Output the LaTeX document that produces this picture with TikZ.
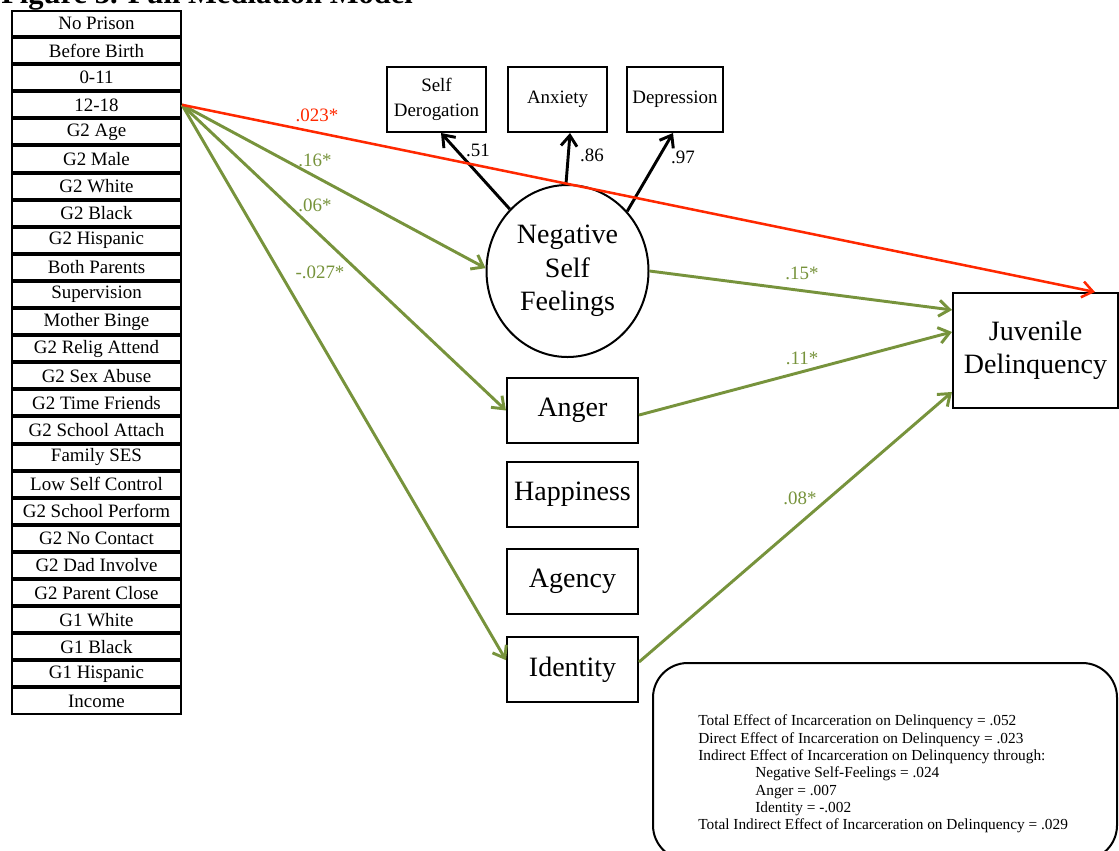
\documentclass[tikz,border=0pt]{standalone}
\usepackage{fontspec}
\setmainfont{Liberation Serif}
\usetikzlibrary{arrows.meta,shapes.geometric}
\definecolor{pathgreen}{RGB}{119,147,60}
\definecolor{pathred}{RGB}{255,40,0}
\begin{document}
\begin{tikzpicture}[x=0.75pt,y=-0.75pt,
  lbox/.style={draw, line width=1.5pt, minimum width=126.75pt, minimum height=18.8pt, inner sep=0pt, font=\fontsize{14.2}{16}\selectfont},
  ibox/.style={draw, line width=1.5pt, minimum height=48.75pt, inner sep=0pt, align=center, font=\fontsize{14.2}{18.5}\selectfont},
  mbox/.style={draw, line width=1.5pt, minimum width=98.25pt, minimum height=48.75pt, inner sep=0pt, font=\fontsize{21}{25}\selectfont},
  lat/.style={draw, ellipse, line width=1.5pt, minimum width=121.5pt, minimum height=129pt, inner sep=0pt, align=center, font=\fontsize{21}{25}\selectfont},
  tip/.style={-{Straight Barb[length=8pt,width=12pt]}},
  larrow/.style={draw=black, line width=2.2pt, tip},
  garrow/.style={draw=pathgreen, line width=2.2pt, tip},
  rarrow/.style={draw=pathred, line width=1.9pt, tip},
  lab/.style={font=\fontsize{14.2}{16}\selectfont, inner sep=0pt},
  glab/.style={lab, text=pathgreen},
]
\useasboundingbox (0,0) rectangle (1119,850);
\clip (0,0) rectangle (1119,850);

% title (clipped at top)
\node[anchor=base west, inner sep=0pt, font=\bfseries\fontsize{22.9}{25}\selectfont] (title) at (1,3) {Figure 3. Full Mediation Model};

% left column of covariates
\foreach \t [count=\i from 0] in {No Prison,Before Birth,0-11,12-18,G2 Age,G2 Male,G2 White,G2 Black,G2 Hispanic,Both Parents,Supervision,Mother Binge,G2 Relig Attend,G2 Sex Abuse,G2 Time Friends,G2 School Attach,Family SES,Low Self Control,G2 School Perform,G2 No Contact,G2 Dad Involve,G2 Parent Close,G1 White,G1 Black,G1 Hispanic,Income}
  \node[lbox] (r\i) at (96.5,{23.5+27.1*\i}) {\t};

% indicators
\node[ibox, minimum width=74.25pt] (sd) at (436.5,99.5) {Self\\Derogation};
\node[ibox, minimum width=74.25pt] (anx) at (557.5,99.5) {Anxiety};
\node[ibox, minimum width=72pt] (dep) at (675,99.5) {Depression};

% latent
\node[lat] (nsf) at (567.5,271) {Negative\\Self\\Feelings};

% mediators
\node[mbox] (anger) at (572.5,410.5) {Anger};
\node[mbox] (happy) at (572.5,494.5) {Happiness};
\node[mbox] (agency) at (572.5,581.5) {Agency};
\node[mbox] (ident) at (572.5,669.5) {Identity};

% outcome
\node[mbox, minimum width=123.75pt, minimum height=86.25pt, align=center, font=\fontsize{21}{24.75}\selectfont] (jd) at (1035.5,350.5) {Juvenile\\Delinquency};

% loadings
\draw[larrow] (nsf.133) -- ([xshift=3.4pt]sd.south);
\draw[larrow] (nsf.91.7) -- ([xshift=9.4pt]anx.south);
\draw[larrow] (nsf.45.7) -- ([xshift=-1.5pt]dep.south);
\node[lab] (l51) at (478,150) {.51};
\node[lab] (l86) at (592,155) {.86};
\node[lab] (l97) at (683,157) {.97};

% paths from 12-18
\draw[garrow] (r3.east) -- (nsf.178);
\draw[garrow] (r3.east) -- (anger.west);
\draw[garrow] (r3.east) -- ([yshift=7pt]ident.west);
\draw[rarrow] (r3.east) -- ([xshift=44.6pt]jd.north);

% paths to outcome
\draw[garrow] (nsf.east) -- ([yshift=30.4pt]jd.west);
\draw[garrow] ([yshift=-3.4pt]anger.east) -- ([yshift=13.9pt]jd.west);
\draw[garrow] ([yshift=5.6pt]ident.east) -- ([yshift=-31.1pt]jd.west);

% path labels
\node[lab, text=pathred] (l023) at (317,115) {.023*};
\node[glab] (l16) at (315,160) {.16*};
\node[glab] (l06) at (315,205) {.06*};
\node[glab] (l027) at (320,272) {-.027*};
\node[glab] (l15) at (802,273) {.15*};
\node[glab] (l11) at (802,358) {.11*};
\node[glab] (l08) at (800,498) {.08*};

% effects box
\draw[line width=1.5pt, rounded corners=26pt] (653,663) rectangle (1117,860);
\node[anchor=west, align=left, inner sep=0pt, font=\fontsize{11.5}{13}\selectfont] (eff) at (698,774) {Total Effect of Incarceration on Delinquency = .052\\
Direct Effect of Incarceration on Delinquency = .023\\
Indirect Effect of Incarceration on Delinquency through:\\
\hspace*{42.75pt}Negative Self-Feelings = .024\\
\hspace*{42.75pt}Anger = .007\\
\hspace*{42.75pt}Identity = -.002\\
Total Indirect Effect of Incarceration on Delinquency = .029};
\end{tikzpicture}
\end{document}
